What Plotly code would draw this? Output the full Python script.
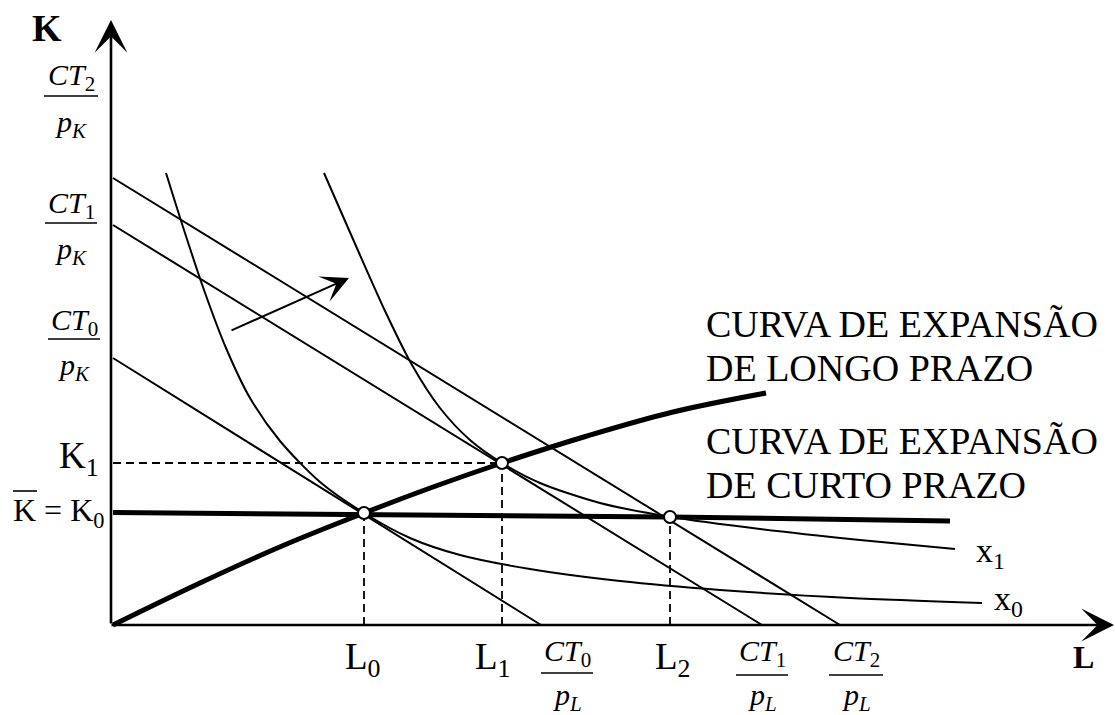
import plotly.graph_objects as go

# ---------------- data (L on horizontal axis, K on vertical axis) ----------------
# isocost lines: K-intercept (CT/pK) and L-intercept (CT/pL)
isocost_K_intercept = [267, 400, 447]
isocost_L_intercept = [428, 649, 727]

# isoquant x0
x0_L = [53, 71, 91, 113, 137, 167, 207, 251, 297, 347, 417, 507, 607, 737, 869]
x0_K = [452, 395, 335, 277, 227, 184, 143, 112, 87, 70, 56, 44, 35, 27, 22]

# isoquant x1
x1_L = [211, 243, 273, 299, 327, 357, 389, 427, 487, 558, 647, 747, 842]
x1_K = [452, 379, 312, 260, 217, 185, 162, 142, 122, 108, 96, 85, 76]

# long-run expansion path
lr_L = [0, 87, 169, 251, 320, 389, 474, 560, 653]
lr_K = [0, 42, 79, 112, 138, 162, 189, 213, 232]

# short-run expansion path (K fixed at K0)
sr_L = [0, 557, 837]
sr_K = [112.5, 108, 104]

# equilibrium points (L0,K0), (L1,K1), (L2,K0)
eq_L = [251, 389, 557]
eq_K = [112, 162, 108]

# shift arrow (tail, head)
shift_tail = [117, 294]
shift_head = [236, 347]

# ---------------- figure ----------------
W, H = 1115, 715
OX, OY = 113, 625  # pixel position of origin


def to_data(px, py):
    return px - OX, OY - py


FONT = "Liberation Serif, Times New Roman, serif"
fig = go.Figure()
thin = dict(color="black", width=2)

# isocost lines
for ki, li in zip(isocost_K_intercept, isocost_L_intercept):
    fig.add_trace(go.Scatter(x=[0, li], y=[ki, 0], mode="lines", line=thin,
                             hoverinfo="skip", showlegend=False))

# isoquants
for xs, ys in [(x0_L, x0_K), (x1_L, x1_K)]:
    fig.add_trace(go.Scatter(x=xs, y=ys, mode="lines",
                             line=dict(color="black", width=2, shape="spline", smoothing=0.8),
                             hoverinfo="skip", showlegend=False))

# dashed guide lines
dash = dict(color="black", width=1.8, dash="8px,5px")
fig.add_trace(go.Scatter(x=[0, eq_L[1]], y=[eq_K[1], eq_K[1]], mode="lines", line=dash,
                         hoverinfo="skip", showlegend=False))
for lx, ky in zip(eq_L, eq_K):
    fig.add_trace(go.Scatter(x=[lx, lx], y=[0, ky], mode="lines", line=dash,
                             hoverinfo="skip", showlegend=False))

# expansion paths (thick)
fig.add_trace(go.Scatter(x=lr_L, y=lr_K, mode="lines",
                         line=dict(color="black", width=5, shape="spline", smoothing=1.0),
                         hoverinfo="skip", showlegend=False))
fig.add_trace(go.Scatter(x=sr_L, y=sr_K, mode="lines", line=dict(color="black", width=5),
                         hoverinfo="skip", showlegend=False))

# equilibrium points
fig.add_trace(go.Scatter(x=eq_L, y=eq_K, mode="markers",
                         marker=dict(size=12, color="white", line=dict(color="black", width=2)),
                         hoverinfo="skip", showlegend=False))

annotations = []
shapes = []

# axes with arrowheads
annotations.append(dict(x=-2, y=605, ax=-2, ay=0, xref="x", yref="y", axref="x", ayref="y",
                        showarrow=True, arrowhead=3, arrowsize=2.1, arrowwidth=2.6,
                        arrowcolor="black", text=""))
annotations.append(dict(x=1001, y=0, ax=-3, ay=0, xref="x", yref="y", axref="x", ayref="y",
                        showarrow=True, arrowhead=3, arrowsize=2.1, arrowwidth=2.6,
                        arrowcolor="black", text=""))

# shift arrow
annotations.append(dict(x=shift_head[0], y=shift_head[1], ax=shift_tail[0], ay=shift_tail[1],
                        xref="x", yref="y", axref="x", ayref="y", showarrow=True,
                        arrowhead=3, arrowsize=2.3, arrowwidth=2, arrowcolor="black", text=""))


def label(px, py, text, size, xanchor="center", yanchor="middle"):
    x, y = to_data(px, py)
    annotations.append(dict(x=x, y=y, xref="x", yref="y", text=text, showarrow=False,
                            xanchor=xanchor, yanchor=yanchor,
                            font=dict(family=FONT, size=size, color="black")))


def hline_px(px0, px1, py, width=1.5):
    x0, y0 = to_data(px0, py)
    x1, y1 = to_data(px1, py)
    shapes.append(dict(type="line", xref="x", yref="y", x0=x0, y0=y0, x1=x1, y1=y1,
                       line=dict(color="black", width=width)))


def fraction(cx, y_num, y_bar, y_den, half, sub, den_sub, size=30):
    label(cx, y_num, "<i>CT</i><sub>%s</sub>" % sub, size)
    hline_px(cx - half, cx + half, y_bar)
    label(cx, y_den, "<i>p</i><sub><i>%s</i></sub>" % den_sub, size)


# vertical axis fractions
fraction(71, 77, 96, 124, 27, "2", "K")
fraction(71, 205, 223, 251, 26, "1", "K")
fraction(74, 322, 339, 367, 26, "0", "K")

# horizontal axis fractions
fraction(567, 653, 673, 697, 26, "0", "L")
fraction(762, 653, 675, 697, 26, "1", "L")
fraction(856, 653, 675, 697, 27, "2", "L")

# axis names
label(47, 28, "<b>K</b>", 38)
label(1083, 657, "<b>L</b>", 32)

# tick-like labels
label(101, 458, "K<sub>1</sub>", 37, xanchor="right")
label(106, 512, "K = K<sub>0</sub>", 32, xanchor="right")
hline_px(13, 37, 491, width=1.6)

Lpx = [v + OX for v in eq_L]
label(Lpx[0] - 21, 659, "L<sub>0</sub>", 37, xanchor="left")
label(Lpx[1] - 29, 659, "L<sub>1</sub>", 37, xanchor="left")
label(Lpx[2] - 17, 659, "L<sub>2</sub>", 37, xanchor="left")

label(974, 553, "x<sub>1</sub>", 34, xanchor="left")
label(992, 601, "x<sub>0</sub>", 34, xanchor="left")

# curve captions
label(704, 324, "CURVA DE EXPANSÃO", 38, xanchor="left")
label(704, 368, "DE LONGO PRAZO", 38, xanchor="left")
label(704, 441, "CURVA DE EXPANSÃO", 38, xanchor="left")
label(704, 485, "DE CURTO PRAZO", 38, xanchor="left")

fig.update_layout(
    width=W, height=H, autosize=False,
    margin=dict(l=0, r=0, t=0, b=0),
    paper_bgcolor="white", plot_bgcolor="white",
    xaxis=dict(range=[-OX, W - OX], visible=False, fixedrange=True),
    yaxis=dict(range=[OY - H, OY], visible=False, fixedrange=True),
    annotations=annotations, shapes=shapes, showlegend=False,
)

fig.write_html("out.html", config={"displayModeBar": False},
               post_script="document.body.style.margin='0px';")
